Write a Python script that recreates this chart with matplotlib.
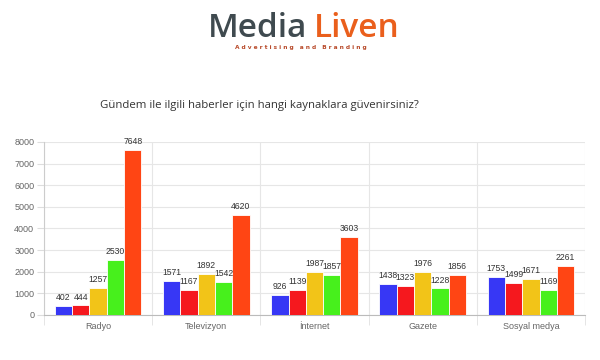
import matplotlib
matplotlib.use("Agg")
import matplotlib.pyplot as plt
import numpy as np

categories = ["Radyo", "Televizyon", "İnternet", "Gazete", "Sosyal medya"]
series1 = [402, 1571, 926, 1438, 1753]
series2 = [444, 1167, 1139, 1323, 1499]
series3 = [1257, 1892, 1987, 1976, 1671]
series4 = [2530, 1542, 1857, 1228, 1169]
series5 = [7648, 4620, 3603, 1856, 2261]
colors = ["#3737f5", "#f5181e", "#f2c418", "#47f01c", "#ff4514"]
yticks = [0, 1000, 2000, 3000, 4000, 5000, 6000, 7000, 8000]
title = "Gündem ile ilgili haberler için hangi kaynaklara güvenirsiniz?"

fig = plt.figure(figsize=(6, 3.6), dpi=100)
fig.patch.set_facecolor("white")

# Logo
fig.text(0.347, 0.897, "Media", fontsize=24, color="#3f4a4f", family="Open Sans",
         ha="left", va="baseline", fontweight="semibold")
fig.text(0.523, 0.897, "Liven", fontsize=24, color="#ea5f1c", family="Open Sans",
         ha="left", va="baseline", fontweight="semibold")
fig.text(0.501, 0.868, "A d v e r t i s i n g   a n d   B r a n d i n g", fontsize=4.2,
         color="#b84a2a", family="DejaVu Sans", ha="center", va="center", fontweight="bold")

fig.text(0.433, 0.708, title, fontsize=8.2, color="#333333", family="Open Sans",
         ha="center", va="center")

ax = fig.add_axes([0.0733, 0.125, 0.9017, 0.4806])
series = [series1, series2, series3, series4, series5]
x = np.arange(len(categories))
w = 0.8 / 5
for i, (s, c) in enumerate(zip(series, colors)):
    pos = x - 0.4 + w * (i + 0.5)
    ax.bar(pos, s, width=w, color=c, edgecolor="white", linewidth=0.6, zorder=3)
    for px, v in zip(pos, s):
        ax.text(px, v + 180, str(v), ha="center", va="bottom", fontsize=6.2,
                color="#333333", family="Liberation Sans", zorder=4)

ax.set_xlim(-0.5, len(categories) - 0.5)
ax.set_ylim(0, 8000)
ax.set_yticks(yticks)
ax.set_yticklabels([str(t) for t in yticks], fontsize=6.5, color="#666666",
                   family="Liberation Sans")
ax.set_xticks(x)
ax.set_xticklabels(categories, fontsize=6.5, color="#666666", family="Liberation Sans")
ax.tick_params(axis="x", length=0, pad=5)
ax.tick_params(axis="y", length=5, color="#dddddd", pad=2)
ax.set_xticks(np.arange(-0.5, len(categories), 1), minor=True)
ax.tick_params(axis="x", which="minor", length=7, color="#e0e0e0")
ax.grid(axis="y", color="#e6e6e6", linewidth=0.8, zorder=0)
ax.grid(axis="x", which="minor", color="#e6e6e6", linewidth=0.8, zorder=0)
for sp in ["top", "right"]:
    ax.spines[sp].set_visible(False)
ax.spines["left"].set_color("#cccccc")
ax.spines["bottom"].set_color("#bbbbbb")
ax.spines["left"].set_linewidth(0.8)
ax.spines["bottom"].set_linewidth(0.8)

fig.savefig("out.png", dpi=100, facecolor="white")
